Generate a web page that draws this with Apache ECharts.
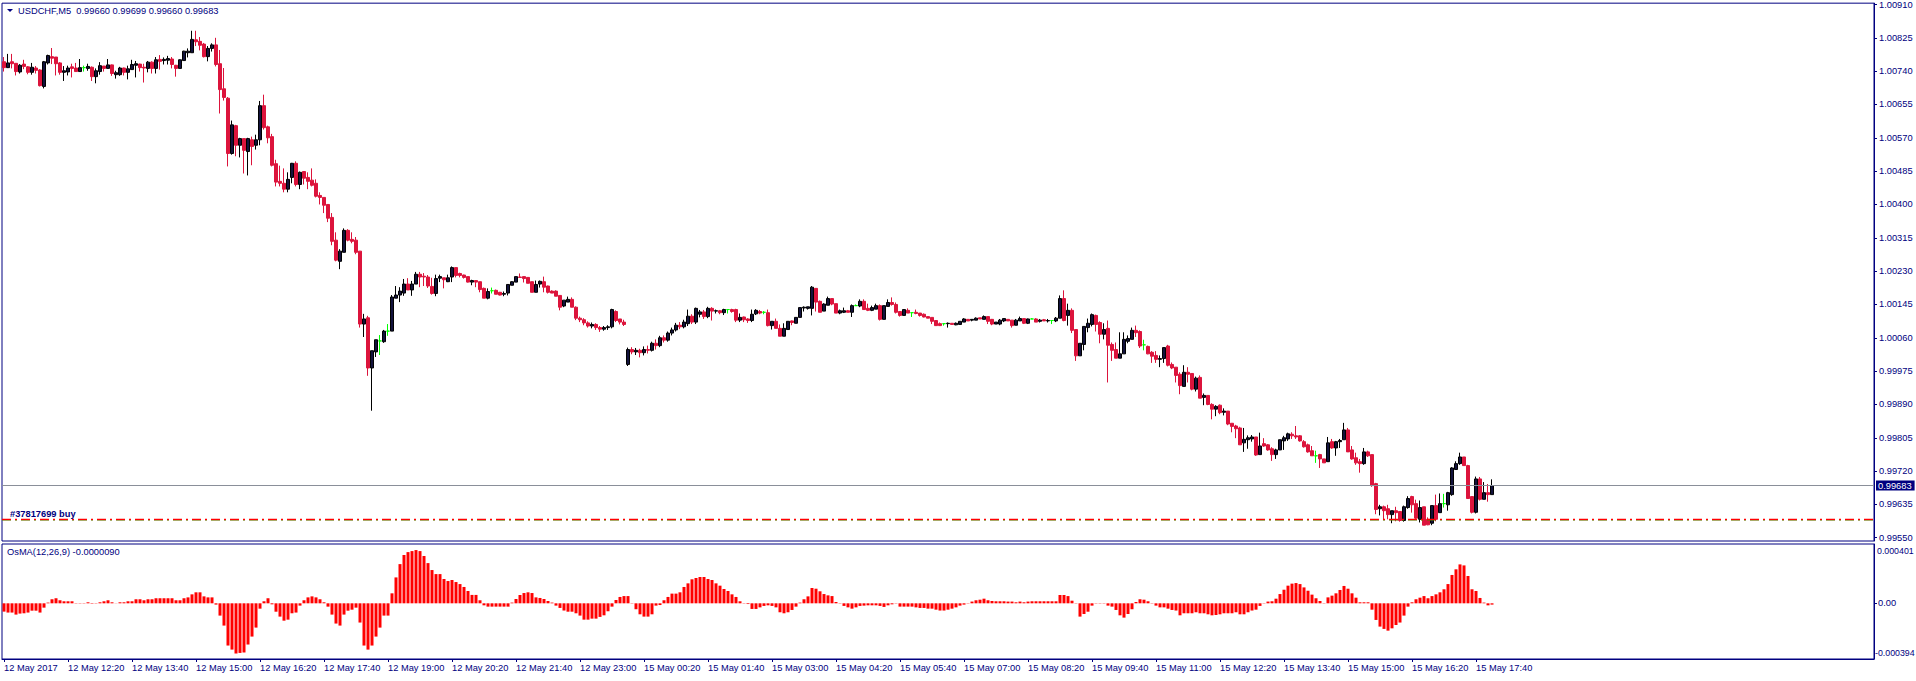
<!DOCTYPE html>
<html><head><meta charset="utf-8">
<script src="https://cdn.jsdelivr.net/npm/echarts@6/dist/echarts.min.js"></script>
<style>html,body{margin:0;padding:0;background:#fff;}#c{width:1916px;height:681px;}</style>
</head><body><div id="c"></div>
<script>
// ---------- data ----------
const symbolName = 'USDCHF,M5';
const lastBar = ['0.99660', '0.99699', '0.99660', '0.99683'];
const osmaTitle = 'OsMA(12,26,9) -0.0000090';
const firstLabel = '12 May 2017';
const osmaTopLabel = '0.000401';
const osmaBottomLabel = '-0.000394';
const orderLabel = '#37817699 buy';
const bidPrice = 0.99683;
const orderPriceRed = 0.99597;
const orderPriceGreen = 0.99594;
const priceTicks = [0.99550,0.99635,0.99720,0.99805,0.99890,0.99975,1.00060,1.00145,1.00230,1.00315,1.00400,1.00485,1.00570,1.00655,1.00740,1.00825,1.00910];
const slotCount = 468;

const open = [
1.00764,1.00749,1.00764,1.00760,1.00738,1.00758,1.00751,1.00737,1.00748,1.00743,
1.00701,1.00761,1.00777,1.00776,1.00761,1.00737,1.00738,1.00751,1.00748,1.00739,
1.00749,1.00747,1.00750,1.00726,1.00739,1.00753,1.00747,1.00756,1.00731,1.00731,
1.00748,1.00737,1.00744,1.00755,1.00758,1.00750,1.00747,1.00763,1.00747,1.00770,
1.00767,1.00768,1.00771,1.00755,1.00747,1.00767,1.00787,1.00787,1.00820,1.00816,
1.00809,1.00777,1.00798,1.00807,1.00759,1.00695,1.00671,1.00530,1.00601,1.00551,
1.00568,1.00535,1.00565,1.00551,1.00565,1.00652,1.00598,1.00573,1.00504,1.00459,
1.00454,1.00439,1.00469,1.00505,1.00451,1.00484,1.00469,1.00462,1.00454,1.00423,
1.00418,1.00400,1.00367,1.00309,1.00255,1.00278,1.00334,1.00311,1.00309,1.00281,
1.00095,1.00111,0.99983,1.00024,1.00052,1.00050,1.00077,1.00077,1.00161,1.00169,
1.00174,1.00197,1.00182,1.00197,1.00222,1.00217,1.00215,1.00191,1.00173,1.00212,
1.00213,1.00203,1.00215,1.00239,1.00224,1.00220,1.00216,1.00202,1.00206,1.00203,
1.00186,1.00161,1.00180,1.00181,1.00176,1.00171,1.00174,1.00194,1.00202,1.00215,
1.00216,1.00214,1.00203,1.00176,1.00197,1.00203,1.00192,1.00179,1.00179,1.00168,
1.00141,1.00151,1.00158,1.00138,1.00110,1.00106,1.00098,1.00090,1.00094,1.00086,
1.00082,1.00086,1.00088,1.00127,1.00108,1.00100,0.99992,1.00030,1.00024,1.00028,
1.00022,1.00030,1.00028,1.00046,1.00040,1.00060,1.00054,1.00072,1.00080,1.00092,
1.00088,1.00096,1.00115,1.00100,1.00120,1.00126,1.00114,1.00135,1.00128,1.00129,
1.00124,1.00132,1.00132,1.00132,1.00105,1.00113,1.00108,1.00104,1.00121,1.00127,
1.00125,1.00124,1.00091,1.00102,1.00084,1.00064,1.00081,1.00103,1.00097,1.00112,
1.00136,1.00135,1.00135,1.00186,1.00153,1.00128,1.00143,1.00160,1.00147,1.00123,
1.00125,1.00129,1.00125,1.00142,1.00141,1.00153,1.00135,1.00130,1.00133,1.00142,
1.00107,1.00140,1.00150,1.00145,1.00127,1.00117,1.00130,1.00124,1.00125,1.00123,
1.00120,1.00114,1.00112,1.00104,1.00096,1.00096,1.00096,1.00097,1.00093,1.00094,
1.00100,1.00107,1.00105,1.00105,1.00111,1.00107,1.00114,1.00107,1.00095,1.00095,
1.00103,1.00107,1.00105,1.00092,1.00103,1.00109,1.00097,1.00108,1.00108,1.00102,
1.00106,1.00103,1.00104,1.00103,1.00110,1.00160,1.00117,1.00130,1.00081,1.00014,
1.00043,1.00086,1.00094,1.00117,1.00099,1.00069,1.00084,1.00043,1.00030,1.00008,
1.00019,1.00051,1.00056,1.00079,1.00076,1.00042,1.00038,1.00023,1.00015,1.00005,
1.00007,1.00039,0.99992,0.99985,0.99967,0.99936,0.99972,0.99969,0.99929,0.99959,
0.99908,0.99913,0.99890,0.99878,0.99888,0.99870,0.99873,0.99842,0.99835,0.99830,
0.99792,0.99800,0.99802,0.99807,0.99762,0.99790,0.99787,0.99777,0.99762,0.99774,
0.99797,0.99802,0.99814,0.99810,0.99810,0.99795,0.99787,0.99772,0.99759,0.99762,
0.99751,0.99744,0.99795,0.99779,0.99795,0.99800,0.99825,0.99774,0.99754,0.99744,
0.99739,0.99769,0.99762,0.99688,0.99624,0.99629,0.99624,0.99609,0.99619,0.99617,
0.99594,0.99627,0.99655,0.99637,0.99597,0.99629,0.99597,0.99587,0.99632,0.99614,
0.99637,0.99634,0.99660,0.99724,0.99739,0.99756,0.99734,0.99655,0.99615,0.99700,
0.99648,0.99665,0.99660];

const high = [
1.00776,1.00784,1.00784,1.00760,1.00758,1.00769,1.00753,1.00761,1.00753,1.00745,
1.00766,1.00782,1.00799,1.00776,1.00763,1.00753,1.00754,1.00759,1.00761,1.00771,
1.00754,1.00759,1.00752,1.00747,1.00763,1.00753,1.00771,1.00757,1.00741,1.00751,
1.00749,1.00754,1.00769,1.00766,1.00759,1.00759,1.00766,1.00765,1.00776,1.00781,
1.00775,1.00779,1.00776,1.00756,1.00770,1.00792,1.00798,1.00843,1.00843,1.00827,
1.00812,1.00804,1.00811,1.00825,1.00794,1.00748,1.00674,1.00614,1.00603,1.00570,
1.00568,1.00570,1.00573,1.00578,1.00664,1.00680,1.00601,1.00580,1.00514,1.00499,
1.00492,1.00482,1.00506,1.00510,1.00484,1.00484,1.00482,1.00492,1.00464,1.00431,
1.00418,1.00400,1.00378,1.00329,1.00286,1.00339,1.00337,1.00329,1.00317,1.00281,
1.00121,1.00116,1.00027,1.00055,1.00067,1.00080,1.00095,1.00169,1.00192,1.00189,
1.00210,1.00212,1.00205,1.00228,1.00228,1.00225,1.00220,1.00213,1.00221,1.00221,
1.00213,1.00221,1.00242,1.00239,1.00226,1.00221,1.00216,1.00208,1.00206,1.00203,
1.00188,1.00186,1.00188,1.00183,1.00177,1.00178,1.00196,1.00204,1.00216,1.00224,
1.00216,1.00214,1.00203,1.00206,1.00206,1.00216,1.00193,1.00181,1.00181,1.00168,
1.00156,1.00165,1.00163,1.00140,1.00114,1.00110,1.00102,1.00099,1.00097,1.00090,
1.00090,1.00092,1.00134,1.00130,1.00108,1.00106,1.00035,1.00036,1.00034,1.00032,
1.00038,1.00040,1.00050,1.00056,1.00065,1.00066,1.00076,1.00086,1.00098,1.00100,
1.00106,1.00132,1.00120,1.00137,1.00131,1.00131,1.00139,1.00138,1.00132,1.00131,
1.00134,1.00132,1.00134,1.00134,1.00122,1.00114,1.00110,1.00132,1.00133,1.00131,
1.00128,1.00132,1.00102,1.00109,1.00094,1.00097,1.00102,1.00104,1.00112,1.00137,
1.00140,1.00139,1.00192,1.00186,1.00155,1.00148,1.00165,1.00160,1.00147,1.00132,
1.00137,1.00131,1.00145,1.00145,1.00158,1.00158,1.00147,1.00142,1.00147,1.00145,
1.00142,1.00158,1.00163,1.00150,1.00127,1.00132,1.00135,1.00124,1.00132,1.00123,
1.00122,1.00114,1.00112,1.00104,1.00099,1.00096,1.00099,1.00097,1.00099,1.00102,
1.00110,1.00107,1.00107,1.00112,1.00111,1.00117,1.00114,1.00108,1.00100,1.00108,
1.00109,1.00107,1.00105,1.00108,1.00114,1.00109,1.00109,1.00110,1.00110,1.00108,
1.00108,1.00108,1.00104,1.00113,1.00168,1.00181,1.00147,1.00135,1.00081,1.00046,
1.00089,1.00109,1.00122,1.00119,1.00102,1.00097,1.00104,1.00048,1.00048,1.00074,
1.00074,1.00066,1.00086,1.00091,1.00079,1.00055,1.00040,1.00026,1.00026,1.00015,
1.00035,1.00042,0.99997,0.99985,0.99972,0.99990,0.99985,0.99969,0.99961,0.99964,
0.99918,0.99913,0.99893,0.99888,0.99890,0.99880,0.99873,0.99842,0.99838,0.99833,
0.99830,0.99811,0.99812,0.99807,0.99818,0.99804,0.99789,0.99781,0.99777,0.99800,
0.99810,0.99818,0.99819,0.99835,0.99812,0.99799,0.99790,0.99784,0.99772,0.99764,
0.99751,0.99807,0.99802,0.99797,0.99802,0.99843,0.99830,0.99784,0.99767,0.99751,
0.99779,0.99772,0.99762,0.99690,0.99634,0.99632,0.99634,0.99619,0.99629,0.99617,
0.99632,0.99656,0.99657,0.99647,0.99645,0.99629,0.99602,0.99632,0.99660,0.99663,
0.99662,0.99667,0.99730,0.99745,0.99767,0.99756,0.99736,0.99655,0.99706,0.99705,
0.99692,0.99687,0.99699];

const low = [
1.00739,1.00748,1.00747,1.00729,1.00734,1.00745,1.00732,1.00731,1.00734,1.00701,
1.00696,1.00757,1.00758,1.00729,1.00731,1.00715,1.00729,1.00724,1.00739,1.00739,
1.00739,1.00741,1.00715,1.00709,1.00731,1.00739,1.00747,1.00728,1.00721,1.00728,
1.00729,1.00719,1.00744,1.00724,1.00739,1.00711,1.00737,1.00734,1.00734,1.00744,
1.00757,1.00757,1.00747,1.00726,1.00747,1.00767,1.00775,1.00787,1.00804,1.00793,
1.00775,1.00765,1.00790,1.00752,1.00632,1.00665,1.00497,1.00527,1.00523,1.00520,
1.00479,1.00474,1.00500,1.00540,1.00551,1.00591,1.00556,1.00497,1.00446,1.00446,
1.00431,1.00431,1.00454,1.00446,1.00439,1.00451,1.00439,1.00446,1.00418,1.00400,
1.00378,1.00355,1.00296,1.00255,1.00235,1.00278,1.00306,1.00301,1.00273,1.00086,
1.00062,0.99963,0.99874,1.00011,1.00016,1.00047,1.00065,1.00077,1.00161,1.00151,
1.00167,1.00182,1.00167,1.00197,1.00189,1.00192,1.00187,1.00170,1.00166,1.00202,
1.00186,1.00202,1.00202,1.00214,1.00214,1.00211,1.00201,1.00194,1.00189,1.00176,
1.00161,1.00158,1.00173,1.00171,1.00168,1.00166,1.00168,1.00194,1.00202,1.00213,
1.00201,1.00199,1.00176,1.00176,1.00188,1.00176,1.00173,1.00174,1.00166,1.00130,
1.00138,1.00151,1.00138,1.00105,1.00100,1.00092,1.00086,1.00084,1.00080,1.00075,
1.00078,1.00080,1.00084,1.00100,1.00094,1.00090,0.99988,1.00018,1.00016,1.00010,
1.00015,1.00020,1.00025,1.00030,1.00036,1.00048,1.00050,1.00066,1.00076,1.00082,
1.00084,1.00090,1.00095,1.00095,1.00112,1.00108,1.00110,1.00104,1.00122,1.00120,
1.00118,1.00122,1.00124,1.00100,1.00100,1.00100,1.00098,1.00100,1.00118,1.00120,
1.00120,1.00089,1.00081,1.00084,1.00064,1.00064,1.00081,1.00092,1.00097,1.00112,
1.00127,1.00132,1.00117,1.00127,1.00125,1.00128,1.00143,1.00143,1.00123,1.00120,
1.00123,1.00125,1.00113,1.00141,1.00138,1.00131,1.00128,1.00128,1.00133,1.00104,
1.00107,1.00140,1.00142,1.00122,1.00114,1.00117,1.00123,1.00113,1.00120,1.00114,
1.00112,1.00110,1.00095,1.00091,1.00090,1.00091,1.00086,1.00094,1.00092,1.00094,
1.00100,1.00103,1.00102,1.00105,1.00108,1.00107,1.00095,1.00092,1.00095,1.00092,
1.00100,1.00103,1.00086,1.00092,1.00103,1.00095,1.00095,1.00108,1.00100,1.00099,
1.00103,1.00099,1.00095,1.00100,1.00110,1.00102,1.00091,1.00072,1.00001,1.00014,
1.00028,1.00074,1.00089,1.00076,1.00046,1.00056,0.99946,1.00001,1.00008,1.00008,
1.00019,1.00046,1.00056,1.00062,1.00034,1.00028,1.00018,0.99996,0.99996,0.99985,
0.99996,0.99987,0.99980,0.99946,0.99916,0.99936,0.99946,0.99926,0.99923,0.99906,
0.99888,0.99888,0.99852,0.99860,0.99865,0.99862,0.99837,0.99819,0.99804,0.99787,
0.99769,0.99777,0.99795,0.99759,0.99762,0.99782,0.99772,0.99746,0.99751,0.99774,
0.99774,0.99797,0.99802,0.99802,0.99795,0.99780,0.99767,0.99759,0.99741,0.99728,
0.99741,0.99744,0.99777,0.99759,0.99779,0.99800,0.99769,0.99749,0.99736,0.99716,
0.99736,0.99756,0.99680,0.99610,0.99607,0.99597,0.99597,0.99587,0.99592,0.99591,
0.99591,0.99624,0.99614,0.99597,0.99589,0.99582,0.99582,0.99582,0.99592,0.99614,
0.99627,0.99619,0.99657,0.99724,0.99736,0.99734,0.99650,0.99612,0.99612,0.99645,
0.99648,0.99642,0.99660];

const close = [
1.00749,1.00761,1.00759,1.00739,1.00755,1.00752,1.00737,1.00750,1.00742,1.00703,
1.00764,1.00780,1.00773,1.00759,1.00737,1.00741,1.00748,1.00747,1.00739,1.00749,
1.00749,1.00752,1.00726,1.00741,1.00754,1.00747,1.00756,1.00734,1.00736,1.00748,
1.00737,1.00746,1.00757,1.00759,1.00749,1.00748,1.00763,1.00747,1.00769,1.00765,
1.00770,1.00772,1.00757,1.00747,1.00769,1.00791,1.00791,1.00821,1.00815,1.00806,
1.00777,1.00798,1.00807,1.00757,1.00693,1.00673,1.00530,1.00603,1.00551,1.00568,
1.00538,1.00568,1.00548,1.00565,1.00652,1.00596,1.00570,1.00500,1.00457,1.00454,
1.00439,1.00464,1.00505,1.00451,1.00482,1.00467,1.00459,1.00449,1.00421,1.00418,
1.00398,1.00365,1.00306,1.00258,1.00281,1.00334,1.00309,1.00306,1.00278,1.00095,
1.00108,0.99983,1.00027,1.00055,1.00052,1.00077,1.00077,1.00164,1.00169,1.00179,
1.00197,1.00182,1.00197,1.00222,1.00215,1.00215,1.00192,1.00173,1.00211,1.00216,
1.00208,1.00213,1.00239,1.00219,1.00219,1.00214,1.00202,1.00206,1.00202,1.00183,
1.00161,1.00178,1.00180,1.00171,1.00169,1.00173,1.00196,1.00203,1.00216,1.00214,
1.00211,1.00199,1.00176,1.00196,1.00204,1.00189,1.00176,1.00174,1.00166,1.00138,
1.00156,1.00158,1.00138,1.00110,1.00106,1.00098,1.00090,1.00094,1.00086,1.00082,
1.00086,1.00088,1.00132,1.00104,1.00100,1.00094,1.00030,1.00024,1.00028,1.00022,
1.00030,1.00028,1.00046,1.00040,1.00060,1.00054,1.00072,1.00080,1.00092,1.00088,
1.00100,1.00115,1.00100,1.00135,1.00126,1.00114,1.00135,1.00128,1.00129,1.00124,
1.00132,1.00132,1.00127,1.00105,1.00112,1.00106,1.00104,1.00120,1.00130,1.00123,
1.00125,1.00091,1.00102,1.00084,1.00064,1.00084,1.00102,1.00099,1.00112,1.00137,
1.00138,1.00139,1.00189,1.00151,1.00125,1.00146,1.00160,1.00146,1.00123,1.00129,
1.00129,1.00125,1.00142,1.00142,1.00153,1.00132,1.00130,1.00137,1.00142,1.00107,
1.00142,1.00150,1.00145,1.00125,1.00117,1.00132,1.00123,1.00124,1.00122,1.00117,
1.00113,1.00110,1.00102,1.00091,1.00091,1.00096,1.00097,1.00094,1.00097,1.00102,
1.00108,1.00103,1.00107,1.00110,1.00108,1.00114,1.00102,1.00095,1.00100,1.00105,
1.00109,1.00103,1.00091,1.00105,1.00109,1.00097,1.00108,1.00108,1.00100,1.00105,
1.00103,1.00104,1.00104,1.00110,1.00160,1.00104,1.00130,1.00079,1.00014,1.00046,
1.00089,1.00097,1.00119,1.00094,1.00069,1.00081,1.00041,1.00028,1.00008,1.00019,
1.00056,1.00058,1.00079,1.00073,1.00039,1.00042,1.00019,1.00013,1.00005,1.00007,
1.00035,0.99990,0.99983,0.99964,0.99938,0.99972,0.99967,0.99929,0.99957,0.99906,
0.99913,0.99890,0.99878,0.99885,0.99869,0.99873,0.99840,0.99834,0.99828,0.99787,
0.99801,0.99805,0.99807,0.99761,0.99784,0.99784,0.99774,0.99762,0.99774,0.99800,
0.99805,0.99815,0.99810,0.99807,0.99797,0.99782,0.99769,0.99759,0.99759,0.99751,
0.99741,0.99792,0.99779,0.99795,0.99798,0.99825,0.99769,0.99751,0.99741,0.99739,
0.99769,0.99759,0.99683,0.99622,0.99629,0.99619,0.99609,0.99619,0.99614,0.99594,
0.99629,0.99650,0.99634,0.99600,0.99627,0.99582,0.99583,0.99632,0.99597,0.99637,
0.99637,0.99665,0.99728,0.99739,0.99756,0.99734,0.99650,0.99615,0.99700,0.99648,
0.99665,0.99660,0.99683];

const osma = [
-0.0000575,-0.000064,-0.000064,-0.000078,-0.000071,-0.000069,-0.000064,-0.000051,-0.000051,-0.000064,
-0.000030,0.000005,0.000028,0.000035,0.000021,0.000014,0.000014,0.000014,-0.000002,-0.000002,
-0.000002,0.000007,-0.000003,-0.000002,0.000007,0.000014,0.000021,0.000007,0.000001,0.000007,
0.000007,0.000014,0.000014,0.000028,0.000028,0.000021,0.000028,0.000028,0.000035,0.000035,
0.000035,0.000035,0.000035,0.000021,0.000021,0.000035,0.000041,0.000062,0.000076,0.000076,
0.000048,0.000041,0.000041,-0.000009,-0.000085,-0.000154,-0.000292,-0.000320,-0.000347,-0.000343,
-0.000340,-0.000285,-0.000230,-0.000168,-0.000037,0.000014,0.000035,-0.000007,-0.000058,-0.000092,
-0.000120,-0.000113,-0.000069,-0.000064,-0.000016,0.000021,0.000041,0.000048,0.000041,0.000028,
0.000007,-0.000023,-0.000078,-0.000140,-0.000154,-0.000078,-0.000051,-0.000044,-0.000030,-0.000133,
-0.000292,-0.000320,-0.000292,-0.000230,-0.000168,-0.000085,-0.000085,0.000069,0.000179,0.000271,
0.000334,0.000354,0.000361,0.000368,0.000361,0.000327,0.000278,0.000230,0.000202,0.000202,
0.000168,0.000154,0.000161,0.000147,0.000133,0.000113,0.000085,0.000058,0.000058,0.000021,
-0.000014,-0.000023,-0.000023,-0.000023,-0.000023,-0.000023,-0.000023,0.000005,0.000030,0.0000575,
0.000071,0.000076,0.000071,0.000041,0.000037,0.000030,0.000016,0.000005,-0.000016,-0.000032,
-0.000050,-0.000058,-0.000058,-0.000069,-0.000085,-0.000113,-0.000113,-0.000106,-0.000106,-0.000094,
-0.000083,-0.000055,-0.000023,0.000023,0.000044,0.000050,0.000050,-0.000002,-0.000041,-0.000076,
-0.000092,-0.000092,-0.000076,-0.000016,-0.000012,0.000021,0.000044,0.000067,0.000067,0.000076,
0.000113,0.000138,0.000166,0.000175,0.000182,0.000182,0.000168,0.000161,0.000138,0.000122,
0.000099,0.000085,0.000062,0.000044,0.000014,-0.000002,-0.000005,-0.000039,-0.000039,-0.000028,
-0.000018,-0.000014,-0.000018,-0.000028,-0.000062,-0.000069,-0.000062,-0.000046,-0.000023,0.000005,
0.000028,0.000048,0.000106,0.000101,0.000083,0.000064,0.000055,0.000050,0.000009,-0.000002,
-0.000018,-0.000028,-0.000037,-0.000028,-0.000018,-0.000016,-0.000014,-0.000014,-0.000014,-0.000018,
-0.000025,-0.000014,-0.000007,-0.000002,-0.000023,-0.000023,-0.000023,-0.000023,-0.000028,-0.000032,
-0.000032,-0.000037,-0.000037,-0.000044,-0.000050,-0.000050,-0.000044,-0.000037,-0.000028,-0.000016,
-0.000009,0.000002,0.000012,0.000021,0.000025,0.000032,0.000021,0.000016,0.000014,0.000014,
0.000014,0.000012,0.000012,0.000007,0.000012,0.000007,0.000012,0.000014,0.000014,0.000014,
0.000014,0.000014,0.000014,0.000014,0.0000575,0.0000575,0.000050,0.000018,-0.000002,-0.000092,
-0.000074,-0.000058,-0.000016,-0.000002,0.000002,-0.000002,-0.000016,-0.000023,-0.000046,-0.000083,
-0.000099,-0.000074,-0.000041,0.000009,0.000028,0.000025,0.000014,-0.000002,-0.000016,-0.000028,
-0.000028,-0.000037,-0.000046,-0.000050,-0.000083,-0.000069,-0.000069,-0.000069,-0.000062,-0.000069,
-0.000069,-0.000076,-0.000083,-0.000081,-0.000076,-0.000069,-0.000069,-0.000069,-0.000062,-0.000076,
-0.000076,-0.000062,-0.000050,-0.000044,-0.000018,-0.000002,0.000012,0.000014,0.000032,0.000064,
0.000094,0.000122,0.000136,0.000140,0.000133,0.000110,0.000087,0.000060,0.000035,0.000016,
0.000002,0.000041,0.000053,0.000069,0.000092,0.000120,0.000101,0.000069,0.000039,0.000007,
0.000007,0.000007,-0.000044,-0.000115,-0.000161,-0.000177,-0.000189,-0.000173,-0.000150,-0.000133,
-0.000085,-0.000023,0.000007,0.000028,0.000039,0.000050,0.000035,0.000050,0.000062,0.000076,
0.000097,0.000133,0.000196,0.000235,0.000269,0.000262,0.000189,0.000097,0.000085,0.000037,
0.000005,-0.000014,-0.000009];

// ---------- categories (5-minute bars from 12 May 11:00, Friday close -> Monday) ----------
const categories = [];
for (let i = 0; i < slotCount; i++) {
  let m = 660 + 5 * i, day = 12;
  if (m >= 1440) { m -= 1440; day = 15; }
  const hh = String(Math.floor(m / 60)).padStart(2, '0');
  const mm = String(m % 60).padStart(2, '0');
  categories.push(day + ' May ' + hh + ':' + mm);
}

// ---------- chart ----------
const NAVY = '#000080';
const FONT = '"Liberation Sans", Arial, sans-serif';
const FS = 9.3;
const nBars = open.length;
const showIdx = (idx) => idx % 16 === 0 && idx < nBars;
const dashDot = [9, 4, 2, 4];

const chart = echarts.init(document.getElementById('c'), null, { renderer: 'svg' });
chart.setOption({
  animation: false,
  backgroundColor: '#ffffff',
  textStyle: { fontFamily: FONT },
  grid: [
    { left: 2, top: 2, width: 1872, height: 539, show: true, borderColor: NAVY, borderWidth: 1, backgroundColor: '#ffffff' },
    { left: 2, top: 544, width: 1872, height: 115, show: true, borderColor: NAVY, borderWidth: 1, backgroundColor: '#ffffff' }
  ],
  xAxis: [
    { type: 'category', gridIndex: 0, data: categories, boundaryGap: true,
      axisLine: { show: false }, axisTick: { show: false }, axisLabel: { show: false }, splitLine: { show: false } },
    { type: 'category', gridIndex: 1, data: categories, boundaryGap: true,
      axisLine: { show: true, onZero: false, lineStyle: { color: NAVY } },
      axisTick: { show: true, interval: showIdx, alignWithLabel: true, length: 3, lineStyle: { color: NAVY } },
      axisLabel: { show: true, interval: showIdx, align: 'left', margin: 4, color: NAVY, fontSize: FS, fontFamily: FONT,
        formatter: (v, idx) => idx === 0 ? firstLabel : v },
      splitLine: { show: false } }
  ],
  yAxis: [
    { type: 'value', gridIndex: 0, position: 'right', min: 0.995417, max: 1.009134, scale: true,
      axisLine: { show: true, lineStyle: { color: NAVY } },
      axisTick: { show: true, length: 3, customValues: priceTicks, lineStyle: { color: NAVY } },
      axisLabel: { show: true, customValues: priceTicks, margin: 5, color: NAVY, fontSize: FS, fontFamily: FONT,
        formatter: (v) => v.toFixed(5) },
      splitLine: { show: false } },
    { type: 'value', gridIndex: 1, position: 'right', min: -0.000385, max: 0.000410,
      axisLine: { show: true, lineStyle: { color: NAVY } },
      axisTick: { show: true, length: 3, customValues: [0], lineStyle: { color: NAVY } },
      axisLabel: { show: true, customValues: [0], margin: 4, color: NAVY, fontSize: FS, fontFamily: FONT,
        formatter: () => '0.00' },
      splitLine: { show: false } }
  ],
  series: [
    { type: 'candlestick', xAxisIndex: 0, yAxisIndex: 0, barWidth: 3,
      data: open.map((o, i) => [o, close[i], low[i], high[i]]),
      itemStyle: { color: '#12123c', color0: '#dc143c', borderColor: '#000000', borderColor0: '#dc143c',
        borderColorDoji: '#00ff00', borderWidth: 1 } },
    { type: 'line', name: 'orderGreen', xAxisIndex: 0, yAxisIndex: 0, data: [], symbol: 'none', z: 3,
      markLine: { symbol: 'none', silent: true, animation: false, precision: 6,
        data: [
          { yAxis: orderPriceGreen, lineStyle: { color: '#00c000', width: 1, type: dashDot, opacity: 0.45 },
            label: { show: false } }
        ] } },
    { type: 'line', name: 'levels', xAxisIndex: 0, yAxisIndex: 0, data: [], symbol: 'none', z: 4,
      markLine: { symbol: 'none', silent: true, animation: false, precision: 6,
        data: [
          { yAxis: bidPrice, lineStyle: { color: '#8a8f99', width: 1, type: 'solid' },
            label: { show: true, position: 'end', distance: 2, formatter: bidPrice.toFixed(5),
              backgroundColor: NAVY, color: '#ffffff', padding: [1, 3, 0, 2], fontSize: FS, fontFamily: FONT } },
          { yAxis: orderPriceRed, lineStyle: { color: '#ff0000', width: 1.4, type: dashDot },
            label: { show: true, position: 'insideStartTop', distance: [8, 1], formatter: orderLabel,
              color: NAVY, fontSize: FS, fontWeight: 'bold', fontFamily: FONT } }
        ] } },
    { type: 'bar', xAxisIndex: 1, yAxisIndex: 1, barWidth: 3, data: osma,
      itemStyle: { color: '#ff0000' } }
  ],
  graphic: [
    { type: 'polygon', shape: { points: [[7, 9], [13, 9], [10, 12]] }, style: { fill: NAVY } },
    { type: 'text', style: { x: 18, y: 11, text: symbolName + '  ' + lastBar.join(' '), fill: NAVY,
        font: FS + 'px ' + FONT, verticalAlign: 'middle' } },
    { type: 'text', style: { x: 7, y: 552, text: osmaTitle, fill: NAVY, font: FS + 'px ' + FONT, verticalAlign: 'middle' } },
    { type: 'text', style: { x: 1877, y: 551, text: osmaTopLabel, fill: NAVY, font: '8.8px ' + FONT, verticalAlign: 'middle' } },
    { type: 'text', style: { x: 1875, y: 653, text: osmaBottomLabel, fill: NAVY, font: '8.8px ' + FONT, verticalAlign: 'middle' } }
  ]
});
</script>
</body></html>
